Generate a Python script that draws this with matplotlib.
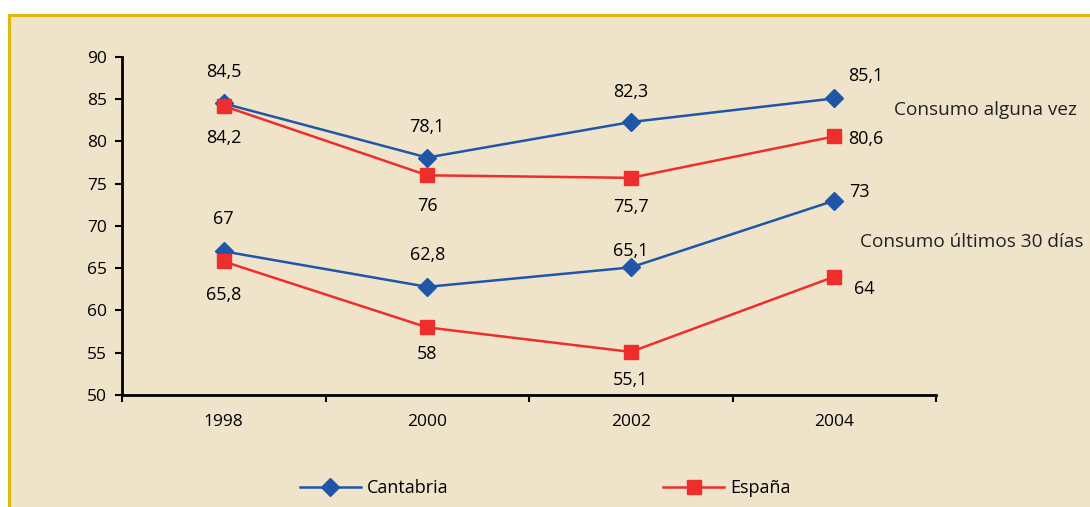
import matplotlib.pyplot as plt
from matplotlib.patches import Rectangle

plt.rcParams['font.family'] = ['Open Sans', 'DejaVu Sans']

years = ['1998', '2000', '2002', '2004']
cant_alguna = [84.5, 78.1, 82.3, 85.1]
esp_alguna = [84.2, 76, 75.7, 80.6]
cant_30 = [67, 62.8, 65.1, 73]
esp_30 = [65.8, 58, 55.1, 64]

blue = '#1f56a8'
red = '#ee2d2d'
bg = '#efe4ca'

fig = plt.figure(figsize=(10.9, 5.07), dpi=100)
fig.patch.set_facecolor('white')
# beige panel with golden border on top and left
panel = Rectangle((9 / 1090, -0.1), 1.2, 1 - 15 / 507 + 0.1,
                  transform=fig.transFigure, facecolor=bg,
                  edgecolor='#e2b80c', linewidth=2.2, zorder=-5)
fig.add_artist(panel)

ax = fig.add_axes([122 / 1090, 1 - 395 / 507, 814 / 1090, 338 / 507])
ax.set_facecolor('none')
x = range(len(years))

ax.plot(x, cant_alguna, color=blue, lw=1.8, marker='D', ms=9, label='Cantabria')
ax.plot(x, esp_alguna, color=red, lw=1.8, marker='s', ms=10, label='España')
ax.plot(x, cant_30, color=blue, lw=1.8, marker='D', ms=9)
ax.plot(x, esp_30, color=red, lw=1.8, marker='s', ms=10)

fs = 13

def fmt(v):
    return ('%g' % v).replace('.', ',')

# label offsets (points) for the first three years
offs = {'ca': [23, 22, 22], 'c3': [23, 23, 12], 'ea': [-23, -22, -21], 'e3': [-24, -19, -20]}
for key, series in (('ca', cant_alguna), ('c3', cant_30), ('ea', esp_alguna), ('e3', esp_30)):
    for i in range(3):
        ax.annotate(fmt(series[i]), (i, series[i]), xytext=(0, offs[key][i]),
                    textcoords='offset points', ha='center', va='center', fontsize=fs)

ax.annotate(fmt(cant_alguna[3]), (3, cant_alguna[3]), xytext=(10, 16),
            textcoords='offset points', ha='left', va='center', fontsize=fs)
ax.annotate(fmt(esp_alguna[3]), (3, esp_alguna[3]), xytext=(10, -2),
            textcoords='offset points', ha='left', va='center', fontsize=fs)
ax.annotate(fmt(cant_30[3]), (3, cant_30[3]), xytext=(11, 6),
            textcoords='offset points', ha='left', va='center', fontsize=fs)
ax.annotate(fmt(esp_30[3]), (3, esp_30[3]), xytext=(14, -9),
            textcoords='offset points', ha='left', va='center', fontsize=fs)

fig.text(1077 / 1090, 1 - 110 / 507, 'Consumo alguna vez', ha='right', va='center',
         fontsize=13.7, color='#222222')
fig.text(1083 / 1090, 1 - 242 / 507, 'Consumo últimos 30 días', ha='right', va='center',
         fontsize=13.7, color='#222222')

ax.set_xlim(-0.5, 3.5)
ax.set_ylim(50, 90)
ax.set_yticks(range(50, 91, 5))
ax.set_xticks([-0.5, 0.5, 1.5, 2.5, 3.5])
ax.set_xticklabels([])
ax.set_xticks(list(x), minor=True)
ax.set_xticklabels(years, minor=True)
ax.tick_params(axis='x', which='minor', length=0, pad=14, labelsize=12.5)
ax.tick_params(axis='x', which='major', direction='out', length=5, width=1.5)
ax.tick_params(axis='y', length=5, width=1.5, labelsize=12.5, pad=6)
for s in ('top', 'right'):
    ax.spines[s].set_visible(False)
for s in ('left', 'bottom'):
    ax.spines[s].set_linewidth(2)

fig.legend(loc='center', bbox_to_anchor=(545 / 1090, 1 - 488 / 507), ncol=2,
           frameon=False, fontsize=fs, handlelength=3.4, columnspacing=11.9,
           handletextpad=0.3)

fig.savefig('out.png', dpi=100)
